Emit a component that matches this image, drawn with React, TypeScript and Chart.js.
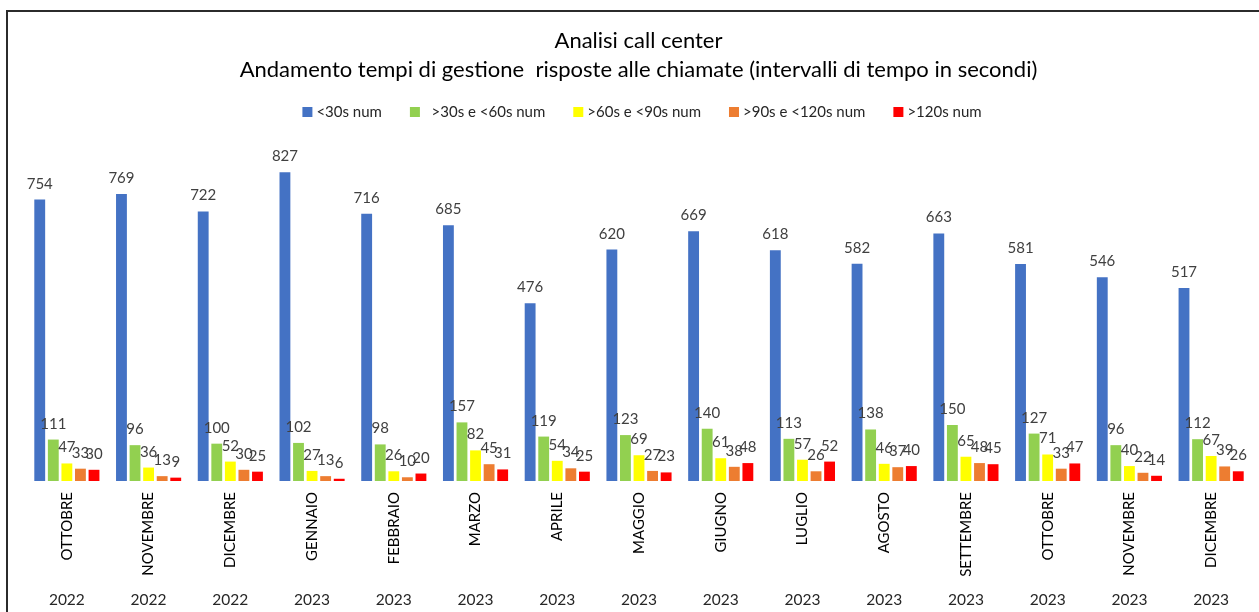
import React, { useEffect, useRef } from 'react';
import { Chart, registerables } from 'chart.js';

Chart.register(...registerables);

const months = ['OTTOBRE', 'NOVEMBRE', 'DICEMBRE', 'GENNAIO', 'FEBBRAIO', 'MARZO', 'APRILE', 'MAGGIO', 'GIUGNO', 'LUGLIO', 'AGOSTO', 'SETTEMBRE', 'OTTOBRE', 'NOVEMBRE', 'DICEMBRE'];
const years = ['2022', '2022', '2022', '2023', '2023', '2023', '2023', '2023', '2023', '2023', '2023', '2023', '2023', '2023', '2023'];

const titleLines = ['Analisi call center', 'Andamento tempi di gestione  risposte alle chiamate (intervalli di tempo in secondi)'];
const seriesLabels = ['<30s num', '  >30s e <60s num', '>60s e <90s num', '>90s e <120s num', '>120s num'];
const seriesColors = ['#4472C4', '#92D050', '#FFFF00', '#ED7D31', '#FF0000'];

const under30 = [754, 769, 722, 827, 716, 685, 476, 620, 669, 618, 582, 663, 581, 546, 517];
const from30to60 = [111, 96, 100, 102, 98, 157, 119, 123, 140, 113, 138, 150, 127, 96, 112];
const from60to90 = [47, 36, 52, 27, 26, 82, 54, 69, 61, 57, 46, 65, 71, 40, 67];
const from90to120 = [33, 13, 30, 13, 10, 45, 34, 27, 38, 26, 37, 48, 33, 22, 39];
const over120 = [30, 9, 25, 6, 20, 31, 25, 23, 48, 52, 40, 45, 47, 14, 26];

const seriesValues = [under30, from30to60, from60to90, from90to120, over120];

const FONT = 'Lato, "Liberation Sans", sans-serif';

const decorPlugin = {
  id: 'decor',
  beforeDraw(chart: any) {
    const ctx = chart.ctx;
    ctx.save();
    ctx.fillStyle = '#ffffff';
    ctx.fillRect(0, 0, chart.width, chart.height);
    ctx.strokeStyle = '#2b2b2b';
    ctx.lineWidth = 2;
    ctx.strokeRect(7, 11, chart.width + 40, chart.height + 40);
    ctx.restore();
  },
  afterDatasetsDraw(chart: any) {
    const ctx = chart.ctx;
    ctx.save();
    ctx.font = `15px ${FONT}`;
    ctx.fillStyle = '#404040';
    ctx.textAlign = 'center';
    ctx.textBaseline = 'alphabetic';
    chart.data.datasets.forEach((ds: any, di: number) => {
      const meta = chart.getDatasetMeta(di);
      meta.data.forEach((bar: any, i: number) => {
        ctx.fillText(String(ds.data[i]), bar.x, bar.y - 11);
      });
    });
    ctx.restore();
  },
  afterDraw(chart: any) {
    const ctx = chart.ctx;
    ctx.save();
    // titles
    ctx.fillStyle = '#000000';
    ctx.textAlign = 'center';
    ctx.textBaseline = 'alphabetic';
    ctx.font = `22px ${FONT}`;
    ctx.fillText(titleLines[0], 638.5, 48);
    ctx.fillText(titleLines[1], 638.5, 77);

    // legend
    ctx.font = `15px ${FONT}`;
    const box = 10;
    const boxGap = 4;
    const itemGap = 28;
    const widths = seriesLabels.map((l) => ctx.measureText(l).width);
    const total = widths.reduce((s, w) => s + box + boxGap + w, 0) + itemGap * (seriesLabels.length - 1);
    let x = 642 - total / 2;
    ctx.textAlign = 'left';
    seriesLabels.forEach((l, i) => {
      ctx.fillStyle = seriesColors[i];
      ctx.fillRect(x, 107, box, box);
      ctx.fillStyle = '#262626';
      ctx.fillText(l, x + box + boxGap, 117);
      x += box + boxGap + widths[i] + itemGap;
    });

    // years under the month labels
    const xs = chart.scales.x;
    ctx.font = `15.5px ${FONT}`;
    ctx.fillStyle = '#262626';
    ctx.textAlign = 'center';
    years.forEach((y, i) => {
      ctx.fillText(y, xs.getPixelForValue(i), 605);
    });
    ctx.restore();
  },
};

export default function App() {
  const ref = useRef<HTMLCanvasElement | null>(null);
  useEffect(() => {
    if (!ref.current) return;
    const chart = new Chart(ref.current, {
      type: 'bar',
      data: {
        labels: months,
        datasets: seriesValues.map((vals, i) => ({
          label: seriesLabels[i],
          data: vals,
          backgroundColor: seriesColors[i],
          borderWidth: 0,
          categoryPercentage: 0.83,
          barPercentage: 0.8,
        })),
      },
      options: {
        responsive: false,
        animation: false,
        layout: { padding: { left: 26, right: 7, top: 145, bottom: 0 } },
        plugins: {
          legend: { display: false },
          title: { display: false },
          tooltip: { enabled: false },
        },
        scales: {
          y: { display: false, min: 0, max: 900 },
          x: {
            grid: { display: false, drawTicks: false },
            border: { display: false },
            ticks: {
              autoSkip: false,
              minRotation: 90,
              maxRotation: 90,
              padding: 11,
              color: '#000000',
              font: { family: FONT, size: 15 },
            },
            afterFit: (axis: any) => {
              axis.height = 131;
            },
          },
        },
      },
      plugins: [decorPlugin],
    });
    return () => chart.destroy();
  }, []);
  return (
    <div style={{ position: 'absolute', left: 0, top: 0, width: 1259, height: 612 }}>
      <canvas ref={ref} width={1259} height={612} style={{ display: 'block' }} />
    </div>
  );
}
